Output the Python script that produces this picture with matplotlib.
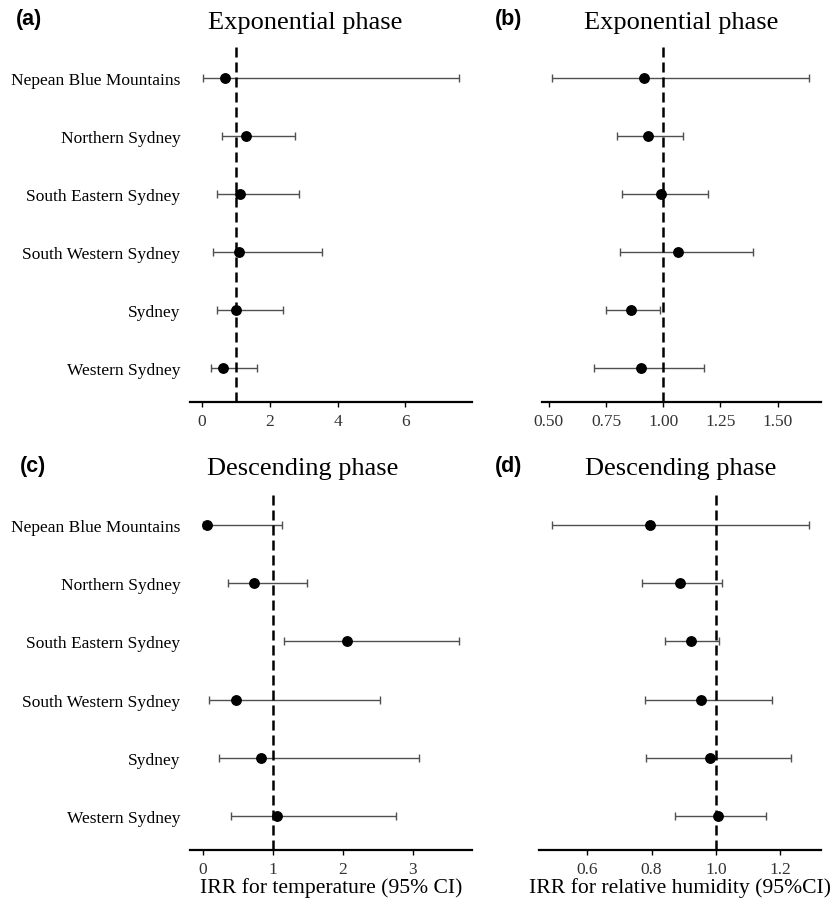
import matplotlib
matplotlib.use("Agg")
from matplotlib import pyplot as plt

plt.rcParams['font.family'] = ['Liberation Serif', 'DejaVu Serif']

# Districts, top to bottom
districts = ["Nepean Blue Mountains", "Northern Sydney", "South Eastern Sydney",
             "South Western Sydney", "Sydney", "Western Sydney"]

# (a) temperature, exponential phase
irr_a = [0.68, 1.29, 1.11, 1.08, 1.00, 0.63]
lo_a = [0.02, 0.60, 0.45, 0.33, 0.44, 0.26]
hi_a = [7.59, 2.74, 2.85, 3.54, 2.40, 1.62]

# (b) relative humidity, exponential phase
irr_b = [0.914, 0.933, 0.990, 1.064, 0.860, 0.904]
lo_b = [0.514, 0.800, 0.821, 0.810, 0.752, 0.697]
hi_b = [1.638, 1.086, 1.197, 1.392, 0.987, 1.177]

# (c) temperature, descending phase
irr_c = [0.07, 0.73, 2.06, 0.48, 0.83, 1.06]
lo_c = [0.01, 0.36, 1.17, 0.09, 0.23, 0.41]
hi_c = [1.14, 1.49, 3.66, 2.53, 3.09, 2.76]

# (d) relative humidity, descending phase
irr_d = [0.794, 0.887, 0.922, 0.954, 0.981, 1.006]
lo_d = [0.489, 0.770, 0.841, 0.778, 0.782, 0.874]
hi_d = [1.290, 1.019, 1.010, 1.175, 1.233, 1.158]

W, H = 835, 903
fig = plt.figure(figsize=(W / 100, H / 100), dpi=100)


def px_axes(left, right, top, bottom):
    return fig.add_axes([left / W, 1 - bottom / H, (right - left) / W, (bottom - top) / H])


def forest(ax, irr, lo, hi, xlim, xticks, xticklabels, show_names):
    ys = list(range(len(districts)))
    xerr = [[m - l for m, l in zip(irr, lo)], [h - m for m, h in zip(irr, hi)]]
    ax.errorbar(irr, ys, xerr=xerr, fmt='none', ecolor='#505050', elinewidth=1.0,
                capsize=3.2, capthick=1.0, zorder=2)
    ax.axvline(1.0, color='black', lw=1.8, dashes=(4, 2), zorder=3)
    ax.plot(irr, ys, 'o', color='black', ms=6.8, zorder=4)
    ax.set_xlim(*xlim)
    ax.set_ylim(5.586, -0.586)
    ax.set_xticks(xticks)
    ax.set_xticklabels(xticklabels)
    ax.set_yticks(ys)
    if show_names:
        ax.set_yticklabels(districts, fontsize=12.5)
    else:
        ax.set_yticklabels([])
    for s in ['top', 'right', 'left']:
        ax.spines[s].set_visible(False)
    ax.spines['bottom'].set_linewidth(1.6)
    ax.tick_params(axis='y', length=0, pad=7)
    ax.tick_params(axis='x', length=3.6, width=1.0, pad=4, labelsize=12.5, colors='black')
    for t in ax.get_xticklabels():
        t.set_color('#333333')
    ax.patch.set_alpha(0)


ax_a = px_axes(190, 472, 45, 403)
forest(ax_a, irr_a, lo_a, hi_a, (-0.35, 7.96), [0, 2, 4, 6], ["0", "2", "4", "6"], True)

ax_b = px_axes(542, 821, 45, 403)
forest(ax_b, irr_b, lo_b, hi_b, (0.470, 1.690), [0.5, 0.75, 1.0, 1.25, 1.5],
       ["0.50", "0.75", "1.00", "1.25", "1.50"], False)

ax_c = px_axes(190, 472, 492, 851)
forest(ax_c, irr_c, lo_c, hi_c, (-0.18, 3.85), [0, 1, 2, 3], ["0", "1", "2", "3"], True)
ax_c.set_xlabel("IRR for temperature (95% CI)", fontsize=15.6, labelpad=0.5)

ax_d = px_axes(539, 821, 492, 851)
forest(ax_d, irr_d, lo_d, hi_d, (0.449, 1.328), [0.6, 0.8, 1.0, 1.2],
       ["0.6", "0.8", "1.0", "1.2"], False)
ax_d.set_xlabel("IRR for relative humidity (95%CI)", fontsize=15.6, labelpad=0.5)

# titles
fig.text(305 / W, 1 - 28.5 / H, "Exponential phase", fontsize=19, ha='center', va='baseline')
fig.text(681 / W, 1 - 28.5 / H, "Exponential phase", fontsize=19, ha='center', va='baseline')
fig.text(303 / W, 1 - 475 / H, "Descending phase", fontsize=19, ha='center', va='baseline')
fig.text(681 / W, 1 - 475 / H, "Descending phase", fontsize=19, ha='center', va='baseline')

# panel letters
for lbl, x, y in [("(a)", 16, 20), ("(b)", 495, 20), ("(c)", 20, 467), ("(d)", 495, 467)]:
    fig.text(x / W, 1 - y / H, lbl, fontsize=15.5, fontweight='bold',
             family=['Liberation Sans', 'DejaVu Sans'], ha='left', va='center')

fig.savefig("out.png", dpi=100)
